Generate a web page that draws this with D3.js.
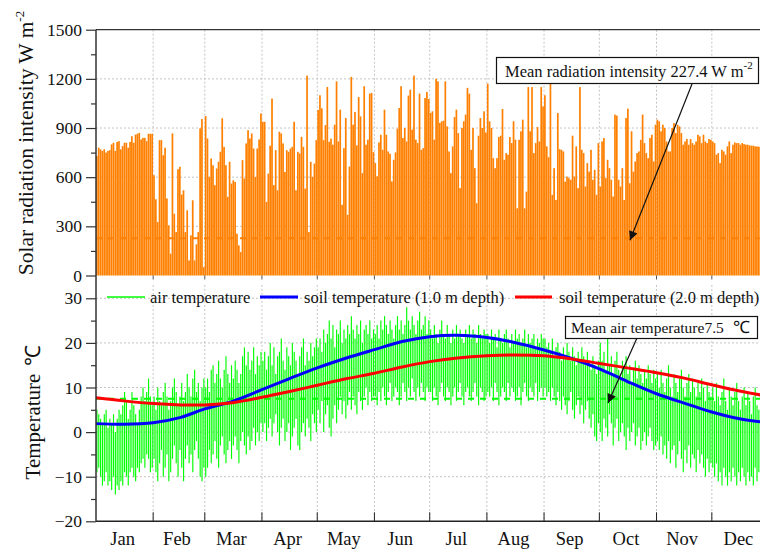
<!DOCTYPE html>
<html>
<head>
<meta charset="utf-8">
<script src="https://cdn.jsdelivr.net/npm/d3@7"></script>
<style>
  body { margin: 0; background: #fff; }
  svg { display: block; }
  text { font-family: "Liberation Serif", "Times New Roman", serif; fill: #111; }
</style>
</head>
<body>
<svg id="chart" width="760" height="550"></svg>
<script>
// ---- data -------------------------------------------------------------
const months = ["Jan","Feb","Mar","Apr","May","Jun","Jul","Aug","Sep","Oct","Nov","Dec"];
const monthStarts = [0,31,59,90,120,151,181,212,243,273,304,334,365];

// daily peak solar radiation (W m-2), one row per month
const radiation = [
  730,780,770,760,770,750,760,765,800,810,760,815,820,770,790,810,810,780,815,850,810,860,865,870,830,840,840,820,865,865,865,
  612,465,326,826,826,734,780,470,306,133,867,377,265,649,663,494,520,265,398,92,245,459,92,190,265,898,955,51,
  973,836,602,714,673,551,653,694,755,959,785,673,480,694,561,581,571,255,184,143,704,592,806,887,836,867,775,602,775,830,989,
  938,938,449,622,792,1080,551,765,520,877,867,806,632,765,755,775,785,938,520,755,745,846,785,530,1220,265,694,602,683,826,
  1010,1100,1020,826,918,1150,816,835,798,920,1185,818,1012,431,777,961,370,665,1212,920,998,794,1089,971,625,1155,798,829,1110,1114,753,
  686,605,812,859,767,1012,859,757,743,574,706,751,896,1022,1155,839,900,818,1098,1134,890,1220,829,808,1110,767,777,1083,1120,1077,
  992,1002,829,1200,1185,931,941,945,1185,910,757,625,788,967,1012,869,533,900,941,982,1145,1110,767,900,655,441,853,961,900,1002,873,
  1171,941,900,716,655,716,845,853,1016,706,747,737,845,808,941,829,410,828,880,951,410,512,1150,880,1150,747,808,906,818,1150,1032,
  1100,788,722,1180,492,655,461,992,771,767,757,573,604,594,584,853,604,788,533,1150,767,747,543,686,634,767,584,645,492,808,
  543,818,839,594,706,655,584,482,982,976,584,543,655,461,961,1018,563,880,634,696,747,757,828,982,808,747,716,839,859,696,920,
  951,941,880,920,900,818,757,757,900,930,869,920,910,869,798,818,833,798,833,808,798,818,859,849,808,859,818,808,833,828,
  818,808,737,747,686,767,757,737,788,818,747,798,812,808,808,798,808,802,798,798,794,792,792,788,788,786,784,782,780,778,778
];

// daily air temperature extremes (°C), one row per month
const airMax = [
  5,4,3,2,4,5,1,3,2,4,0,3,5,4,6,9,7,3,5,9,6,4,2,5,8,10,7,9,12,8,6,
  8,5,10,7,6,9,11,8,5,7,10,12,9,6,8,11,7,9,13,10,8,12,14,9,11,7,10,12,
  10,12,9,14,15,11,13,16,12,10,14,17,13,11,15,12,16,14,11,13,17,19,15,18,14,16,19,13,17,15,18,
  16,18,14,17,20,15,19,13,17,18,21,16,14,19,17,15,20,18,16,13,17,19,21,15,18,16,20,17,19,21,
  19,21,18,23,20,22,25,21,24,19,23,22,25,20,23,21,24,22,26,23,21,24,22,25,20,23,24,22,25,21,23,
  22,24,21,25,23,26,24,22,25,23,21,24,26,23,25,22,24,28,25,23,26,24,22,25,27,23,24,26,22,25,
  23,21,24,22,20,23,25,22,21,24,22,20,23,21,24,22,23,21,20,23,22,24,21,23,22,20,24,22,21,23,22,
  22,20,23,21,22,19,23,21,20,22,23,21,19,22,20,23,21,22,20,21,23,19,22,20,21,22,19,21,20,22,21,
  21,19,20,18,21,17,19,20,18,16,19,17,20,18,16,19,17,15,18,16,19,17,15,18,16,14,17,15,13,16,
  20,16,18,14,21,15,17,13,16,18,14,12,16,15,17,13,15,11,14,16,12,15,13,11,14,12,15,13,11,14,12,
  13,10,14,11,9,12,15,10,8,13,11,9,12,14,10,8,11,13,9,12,10,8,11,9,12,10,7,11,9,8,
  10,7,11,8,6,9,12,7,5,10,8,6,9,11,7,5,8,10,6,9,7,4,8,10,6,5,9,7,4,8,6
];
const airMin = [
  -9,-8,-10,-12,-11,-9,-12,-11,-13,-10,-14,-12,-13,-11,-12,-9,-10,-12,-9,-8,-10,-11,-8,-9,-7,-6,-8,-5,-6,-9,-8,
  -6,-9,-11,-7,-4,-10,-8,-5,-11,-9,-6,-3,-7,-10,-4,-8,-11,-6,-3,-7,-5,-9,-4,-2,-6,-10,-11,-8,
  -10,-8,-4,-7,-5,-2,-6,-8,-3,-1,-5,-7,-4,-2,-6,-3,-1,-4,-7,-2,0,-3,-5,-1,-4,-2,1,-3,0,-2,2,
  0,2,-2,1,3,-1,2,4,0,-3,1,3,-2,0,2,-4,-1,1,3,-3,-4,0,2,-1,3,1,-2,4,2,0,
  5,2,7,0,4,6,1,-1,3,6,2,5,8,4,7,3,6,9,5,8,6,4,9,7,5,8,10,6,9,7,8,
  8,6,9,7,10,8,6,9,11,7,8,10,9,6,8,11,9,7,10,8,12,9,7,10,8,11,9,7,10,9,
  9,7,10,8,6,9,11,8,7,10,9,6,8,10,7,9,11,8,6,9,10,8,7,9,11,8,6,10,9,7,8,
  9,8,10,7,11,9,6,8,10,9,7,11,8,10,9,7,8,10,6,9,11,8,7,10,9,8,11,7,9,10,8,
  10,8,9,7,10,8,6,9,7,5,8,6,4,7,9,5,3,6,8,4,6,2,5,7,3,1,4,-1,-2,2,
  0,-2,3,1,-1,4,2,-3,1,3,-2,0,2,-1,-4,1,-2,0,2,-3,-1,1,-4,-2,0,-3,-1,1,-2,-4,-3,
  -2,-4,-1,-5,-3,-6,-2,-7,-4,-3,-8,-5,-2,-6,-9,-4,-7,-3,-8,-5,-6,-9,-4,-7,-5,-8,-10,-6,-9,-7,
  -8,-10,-7,-11,-9,-12,-8,-10,-12,-9,-11,-8,-10,-12,-9,-11,-8,-10,-12,-9,-11,-10,-12,-8,-11,-9,-12,-10,-11,-9,-12
];

// soil temperature (°C) at sampled days of year
const soilDays = [0,15,31,46,59,74,90,105,120,135,151,166,181,196,212,227,243,258,273,288,304,319,334,349,365];
const soil10 = [1.9,1.75,2.1,3.3,5.2,6.9,9.5,12.0,14.4,16.5,18.5,20.3,21.4,21.7,21.2,20.1,18.4,16.5,14.2,11.4,8.6,6.5,4.5,3.0,2.1];
const soil20 = [7.7,7.0,6.4,6.1,6.1,6.6,7.8,9.1,10.5,11.9,13.2,14.6,15.8,16.6,17.1,17.3,17.1,16.4,15.4,14.4,13.3,12.1,10.6,9.2,8.0];

const radTicks = [0,300,600,900,1200,1500];
const radMinor = [150,450,750,1050,1350];
const tempTicks = [-20,-10,0,10,20,30];
const tempMinor = [-15,-5,5,15,25];
const meanRadiation = 227.4;
const meanAir = 7.5;

// ---- layout -----------------------------------------------------------
const svg = d3.select("#chart");
const left = 96;
const x = d3.scaleLinear().domain([0, 365]).range([left, 769]);
const yRad = d3.scaleLinear().domain([0, 1500]).range([275.5, 29.7]);
const yT = d3.scaleLinear().domain([-20, 30]).range([521.3, 298.3]);
const gridTop2 = yT(33);

const GRID = "#c4c4c4";
const plain = d3.format("d");

// ---- top panel: solar radiation --------------------------------------
const radG = svg.append("g");

// grid
radG.selectAll(".hg").data(radTicks.slice(1, -1)).join("line")
  .attr("x1", left).attr("x2", 760)
  .attr("y1", d => yRad(d)).attr("y2", d => yRad(d))
  .attr("stroke", GRID).attr("stroke-dasharray", "2,2");
radG.selectAll(".vg").data(monthStarts.slice(1, -1)).join("line")
  .attr("x1", d => x(d)).attr("x2", d => x(d))
  .attr("y1", yRad(1500)).attr("y2", yRad(0))
  .attr("stroke", GRID).attr("stroke-dasharray", "2,2");

// mean radiation line (behind the bars)
radG.append("line")
  .attr("x1", left).attr("x2", 760)
  .attr("y1", yRad(meanRadiation)).attr("y2", yRad(meanRadiation))
  .attr("stroke", "#ff8000").attr("stroke-width", 2)
  .attr("stroke-dasharray", "6,6");

// bars
const barW = (x(1) - x(0)) * 0.92;
radG.selectAll(".bar").data(radiation).join("rect")
  .attr("x", (d, i) => x(i))
  .attr("width", barW)
  .attr("y", d => yRad(d))
  .attr("height", d => yRad(0) - yRad(d))
  .attr("fill", "#ff8000");

// frame top
radG.append("line").attr("x1", left).attr("x2", 760)
  .attr("y1", yRad(1500)).attr("y2", yRad(1500))
  .attr("stroke", "#333").attr("stroke-width", 1.2);

// month ticks below the top panel
radG.selectAll(".mt").data(monthStarts.slice(1, -1)).join("line")
  .attr("x1", d => x(d)).attr("x2", d => x(d))
  .attr("y1", yRad(0)).attr("y2", yRad(0) + 4)
  .attr("stroke", "#555");

// y axis (radiation)
radG.append("g").attr("transform", `translate(${left},0)`)
  .call(d3.axisLeft(yRad).tickValues(radTicks).tickFormat(plain).tickSize(10).tickPadding(4));
radG.append("g").attr("transform", `translate(${left},0)`)
  .call(d3.axisLeft(yRad).tickValues(radMinor).tickSize(5).tickFormat(""));

// ---- bottom panel: temperatures --------------------------------------
const tempG = svg.append("g");

tempG.selectAll(".hg").data(tempTicks.slice(1)).join("line")
  .attr("x1", left).attr("x2", 760)
  .attr("y1", d => yT(d)).attr("y2", d => yT(d))
  .attr("stroke", GRID).attr("stroke-dasharray", "2,2");
tempG.selectAll(".vg").data(monthStarts.slice(1, -1)).join("line")
  .attr("x1", d => x(d)).attr("x2", d => x(d))
  .attr("y1", gridTop2).attr("y2", yT(-20))
  .attr("stroke", GRID).attr("stroke-dasharray", "2,2");

// air temperature: daily swing between minimum and maximum
tempG.selectAll(".air").data(airMin).join("line")
  .attr("x1", (d, i) => x(i + 0.5)).attr("x2", (d, i) => x(i + 0.5))
  .attr("y1", d => yT(d)).attr("y2", (d, i) => yT(airMax[i]))
  .attr("stroke", "#00ff00").attr("stroke-width", 1.15);

// mean air temperature
tempG.append("line")
  .attr("x1", left).attr("x2", 760)
  .attr("y1", yT(meanAir)).attr("y2", yT(meanAir))
  .attr("stroke", "#00ff00").attr("stroke-width", 2)
  .attr("stroke-dasharray", "6,6");

// soil curves
const soilLine = vals => d3.line()
  .curve(d3.curveCatmullRom.alpha(0.5))
  .x((d, i) => x(soilDays[i])).y(d => yT(d))(vals);
tempG.append("path").attr("d", soilLine(soil10))
  .attr("fill", "none").attr("stroke", "#0000ff").attr("stroke-width", 3);
tempG.append("path").attr("d", soilLine(soil20))
  .attr("fill", "none").attr("stroke", "#ff0000").attr("stroke-width", 3);

// y axis (temperature)
tempG.append("g").attr("transform", `translate(${left},0)`)
  .call(d3.axisLeft(yT).tickValues(tempTicks).tickFormat(plain).tickSize(10).tickPadding(4));
tempG.append("g").attr("transform", `translate(${left},0)`)
  .call(d3.axisLeft(yT).tickValues(tempMinor).tickSize(5).tickFormat(""));

// x axis with month ticks
tempG.append("line").attr("x1", left).attr("x2", 760)
  .attr("y1", yT(-20)).attr("y2", yT(-20))
  .attr("stroke", "#222").attr("stroke-width", 1.5);
tempG.selectAll(".mt").data(monthStarts.slice(1, -1)).join("line")
  .attr("x1", d => x(d)).attr("x2", d => x(d))
  .attr("y1", yT(-20)).attr("y2", yT(-20) - 9)
  .attr("stroke", "#222");
tempG.selectAll(".ml").data(months).join("text")
  .attr("x", (d, i) => x((monthStarts[i] + monthStarts[i + 1]) / 2) - 2)
  .attr("y", 545)
  .attr("text-anchor", "middle")
  .attr("font-size", 18.5)
  .text(d => d);

// shared left axis line
svg.append("line").attr("x1", left).attr("x2", left)
  .attr("y1", yRad(1500)).attr("y2", yT(-20))
  .attr("stroke", "#333").attr("stroke-width", 1.5);

// axis styling
svg.selectAll(".domain").remove();
svg.selectAll(".tick line").attr("stroke", "#333").attr("stroke-width", 1.2);
svg.selectAll(".tick text")
  .attr("font-size", 17.5)
  .attr("fill", "#111");

// ---- legend -----------------------------------------------------------
const legY = 297;
const legend = [
  { x1: 107, x2: 145, color: "#00ff00", w: 1.4, label: "air temperature", tx: 150 },
  { x1: 260, x2: 298, color: "#0000ff", w: 3, label: "soil temperature (1.0 m depth)", tx: 304 },
  { x1: 515, x2: 552, color: "#ff0000", w: 3, label: "soil temperature (2.0 m depth)", tx: 559 }
];
const lg = svg.append("g");
legend.forEach(l => {
  lg.append("line").attr("x1", l.x1).attr("x2", l.x2)
    .attr("y1", legY).attr("y2", legY)
    .attr("stroke", l.color).attr("stroke-width", l.w);
  lg.append("text").attr("x", l.tx).attr("y", legY + 5.5)
    .attr("font-size", 16.5).text(l.label);
});

// ---- axis titles ------------------------------------------------------
const t1 = svg.append("text")
  .attr("transform", "translate(33,143) rotate(-90)")
  .attr("text-anchor", "middle")
  .attr("font-size", 21.5);
t1.append("tspan").text("Solar radiation intensity W m");
t1.append("tspan").attr("dy", -9).attr("font-size", 13).text("-2");

const t2 = svg.append("text")
  .attr("transform", "translate(40,412) rotate(-90)")
  .attr("text-anchor", "middle")
  .attr("font-size", 21);
t2.append("tspan").text("Temperature");
t2.append("tspan").attr("dx", 8).text("℃");

// ---- annotations ------------------------------------------------------
const defs = svg.append("defs");
defs.append("marker").attr("id", "arrow")
  .attr("viewBox", "0 0 10 10").attr("refX", 10).attr("refY", 5)
  .attr("markerWidth", 12).attr("markerHeight", 9)
  .attr("markerUnits", "userSpaceOnUse")
  .attr("orient", "auto")
  .append("path").attr("d", "M0,0 L10,5 L0,10 Z").attr("fill", "#111");

// radiation note
svg.append("line")
  .attr("x1", 692).attr("y1", 84)
  .attr("x2", 630).attr("y2", yRad(meanRadiation) + 2)
  .attr("stroke", "#111").attr("stroke-width", 1.2)
  .attr("marker-end", "url(#arrow)");
svg.append("rect").attr("x", 496.5).attr("y", 57.5)
  .attr("width", 262).attr("height", 26)
  .attr("fill", "#fff").attr("stroke", "#111").attr("stroke-width", 1.2);
const n1 = svg.append("text").attr("x", 505).attr("y", 77).attr("font-size", 16.5);
n1.append("tspan").text(`Mean radiation intensity ${meanRadiation} W m`);
n1.append("tspan").attr("dy", -8).attr("font-size", 11).text("-2");

// air temperature note
svg.append("line")
  .attr("x1", 637).attr("y1", 338)
  .attr("x2", 608).attr("y2", 403)
  .attr("stroke", "#111").attr("stroke-width", 1.2)
  .attr("marker-end", "url(#arrow)");
svg.append("rect").attr("x", 565.5).attr("y", 316.5)
  .attr("width", 192).attr("height", 22)
  .attr("fill", "#fff").attr("stroke", "#111").attr("stroke-width", 1.2);
const n2 = svg.append("text").attr("x", 571).attr("y", 333).attr("font-size", 15.5);
n2.append("tspan").text(`Mean air temperature${meanAir}`);
n2.append("tspan").attr("dx", 9).attr("font-size", 17).text("℃");
</script>
</body>
</html>
